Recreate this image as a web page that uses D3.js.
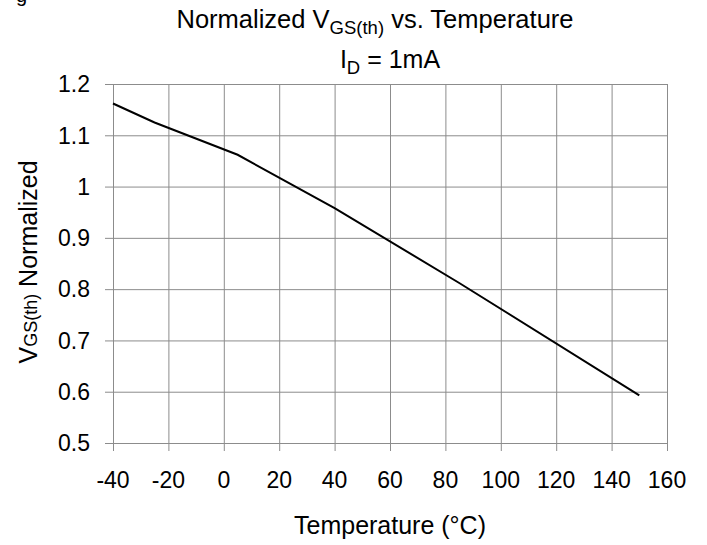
<!DOCTYPE html>
<html>
<head>
<meta charset="utf-8">
<script src="https://cdn.jsdelivr.net/npm/d3@7"></script>
<style>
  body { margin: 0; background: #fff; }
  text { font-family: "Liberation Sans", Arial, sans-serif; fill: #000; }
</style>
</head>
<body>
<script>
// data
var temps = [-40, -25, 5, 40, 85, 150];
var vgsNorm = [1.162, 1.125, 1.062, 0.958, 0.812, 0.593];

var xTicks = [-40, -20, 0, 20, 40, 60, 80, 100, 120, 140, 160];
var yTicks = [0.5, 0.6, 0.7, 0.8, 0.9, 1, 1.1, 1.2];

var width = 707, height = 545;
var margin = { top: 84, right: 40, bottom: 102, left: 113 };

var svg = d3.select("body").append("svg")
  .attr("width", width)
  .attr("height", height);

var x = d3.scaleLinear().domain([-40, 160]).range([margin.left, width - margin.right]);
var y = d3.scaleLinear().domain([0.5, 1.2]).range([height - margin.bottom, margin.top]);

var gridColor = "#8c8c8c";

// grid + outside ticks
svg.append("g")
  .attr("transform", "translate(0," + (height - margin.bottom + 8) + ")")
  .call(d3.axisBottom(x).tickValues(xTicks).tickSize(-(height - margin.bottom - margin.top + 8)).tickFormat(""))
  .call(g => g.select(".domain").remove())
  .selectAll("line").attr("stroke", gridColor);

svg.append("g")
  .attr("transform", "translate(" + (margin.left - 8) + ",0)")
  .call(d3.axisLeft(y).tickValues(yTicks).tickSize(-(width - margin.left - margin.right + 8)).tickFormat(""))
  .call(g => g.select(".domain").remove())
  .selectAll("line").attr("stroke", gridColor);

// tick labels
svg.append("g").selectAll("text")
  .data(xTicks)
  .join("text")
  .attr("x", d => x(d))
  .attr("y", 488)
  .attr("text-anchor", "middle")
  .style("font-size", "23px")
  .text(d => String(d));

svg.append("g").selectAll("text")
  .data(yTicks)
  .join("text")
  .attr("x", 90)
  .attr("y", d => y(d))
  .attr("dy", "0.36em")
  .attr("text-anchor", "end")
  .style("font-size", "23px")
  .text(d => d === 1 ? "1" : d3.format(".1f")(d));

// curve
var pts = temps.map((t, i) => [t, vgsNorm[i]]);
svg.append("path")
  .datum(pts)
  .attr("fill", "none")
  .attr("stroke", "#000")
  .attr("stroke-width", 2)
  .attr("d", d3.line().x(d => x(d[0])).y(d => y(d[1])));

// titles
var title = svg.append("text")
  .attr("x", 375).attr("y", 28)
  .attr("text-anchor", "middle")
  .style("font-size", "25.5px");
title.append("tspan").text("Normalized V");
title.append("tspan").attr("dy", 6).style("font-size", "18.5px").text("GS(th)");
title.append("tspan").attr("dy", -6).text(" vs. Temperature");

var sub = svg.append("text")
  .attr("x", 390).attr("y", 68)
  .attr("text-anchor", "middle")
  .style("font-size", "25px");
sub.append("tspan").text("I");
sub.append("tspan").attr("dy", 6).style("font-size", "18.5px").text("D");
sub.append("tspan").attr("dy", -6).text(" = 1mA");

svg.append("text")
  .attr("x", 390).attr("y", 534)
  .attr("text-anchor", "middle")
  .style("font-size", "25px")
  .text("Temperature (°C)");

var yl = svg.append("text")
  .attr("transform", "translate(37,262) rotate(-90)")
  .attr("text-anchor", "middle")
  .style("font-size", "25px");
yl.append("tspan").text("V");
yl.append("tspan").style("font-size", "18px").text("GS(th)");
yl.append("tspan").text(" Normalized");

// cropped fragment at the top-left corner
svg.append("text").attr("x", 16).attr("y", 2).style("font-size", "20px").text("g");
</script>
</body>
</html>
